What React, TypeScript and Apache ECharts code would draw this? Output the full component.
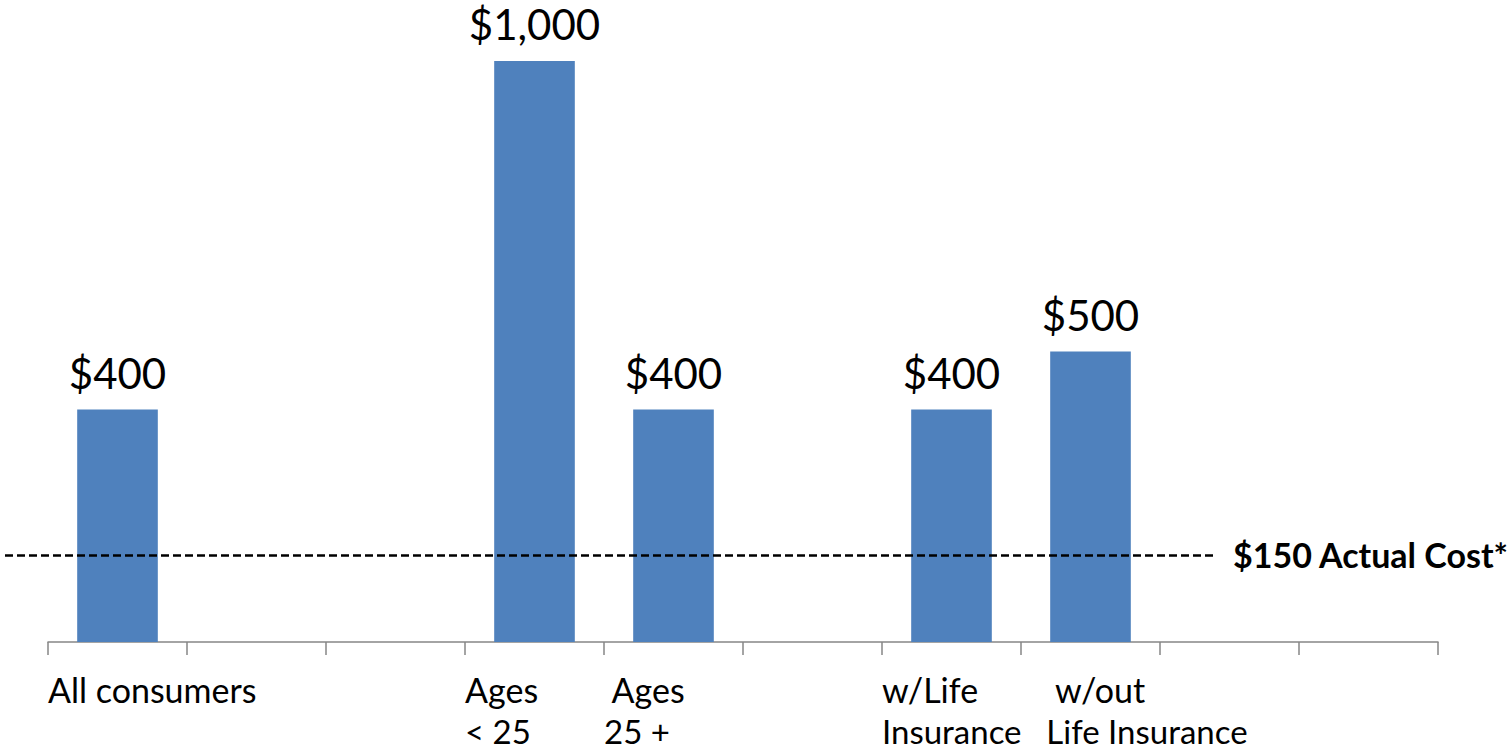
import React, { useEffect, useRef } from 'react';
import * as echarts from 'echarts';

// Category slots (10 slots on the axis, several are empty)
const categories = ['All consumers', 'gap1', 'gap2', 'Ages < 25', 'Ages 25 +', 'gap3', 'w/Life Insurance', 'w/out Life Insurance', 'gap4', 'gap5'];
// Displayed tick labels, one per slot boundary (11 boundaries)
const tickLabels = [
  'All consumers',
  '',
  '',
  'Ages\n< 25',
  '\u00a0Ages\n25 +',
  '',
  'w/Life\nInsurance',
  '\u00a0\u00a0\u00a0\u00a0w/out\n\u00a0\u00a0\u00a0Life Insurance',
  '',
  '',
  '',
];
// Bar values (null = empty slot)
const values: (number | null)[] = [400, null, null, 1000, 400, null, 400, 500, null, null];
const actualCost = 150;
const actualCostLabel = '$150 Actual Cost*';

const FONT = 'Lato';

export default function App() {
  const ref = useRef<HTMLDivElement>(null);
  useEffect(() => {
    document.body.style.margin = '0';
    if (!ref.current) return;
    const chart = echarts.init(ref.current, null, { renderer: 'svg' });
    chart.setOption({
      animation: false,
      backgroundColor: '#ffffff',
      grid: { left: 48, right: 73, top: 61, bottom: 110, containLabel: false, outerBoundsMode: 'none' },
      xAxis: [
        {
          type: 'category',
          data: categories,
          boundaryGap: true,
          axisLine: { show: true, lineStyle: { color: '#868686', width: 1.5 } },
          axisTick: { show: true, interval: 0, length: 13, lineStyle: { color: '#868686', width: 1.5 } },
          axisLabel: { show: false },
        },
        {
          type: 'category',
          data: tickLabels,
          boundaryGap: false,
          position: 'bottom',
          axisLine: { show: false },
          axisTick: { show: false },
          axisLabel: {
            show: true,
            interval: 0,
            align: 'left',
            verticalAlign: 'top',
            margin: 18,
            fontFamily: FONT,
            fontSize: 34,
            color: '#000000',
            hideOverlap: false,
            formatter: (v: string) => {
              if (!v) return '';
              const lines = v.split('\n');
              return lines.map((l, i) => (i === 0 ? `{a|${l}}` : `{b|${l}}`)).join('\n');
            },
            rich: {
              a: { fontFamily: FONT, fontSize: 34, lineHeight: 58, color: '#000000' },
              b: { fontFamily: FONT, fontSize: 33, lineHeight: 26, color: '#000000' },
            },
          },
        },
      ],
      yAxis: { type: 'value', min: 0, max: 1000, show: false, splitLine: { show: false } },
      series: [
        {
          type: 'bar',
          xAxisIndex: 0,
          data: values.map((v) => (v == null ? '-' : v)),
          barCategoryGap: '42%',
          itemStyle: { color: '#4F81BD' },
          label: {
            show: true,
            position: 'top',
            distance: 16,
            fontFamily: FONT,
            fontSize: 42,
            lineHeight: 42,
            color: '#000000',
            formatter: (p: any) => '$' + Number(p.value).toLocaleString('en-US'),
          },
          markLine: {
            silent: true,
            symbol: ['none', 'none'],
            lineStyle: { color: '#000000', type: [8, 4], width: 2.5 },
            label: {
              show: true,
              position: 'end',
              distance: 20,
              formatter: actualCostLabel,
              fontFamily: FONT,
              fontWeight: 'bold',
              fontSize: 34,
              color: '#000000',
            },
            data: [[{ x: 5, yAxis: actualCost }, { x: 1213, yAxis: actualCost }]],
          },
        },
      ],
    });
    return () => chart.dispose();
  }, []);
  return <div ref={ref} style={{ width: 1511, height: 752 }} />;
}
